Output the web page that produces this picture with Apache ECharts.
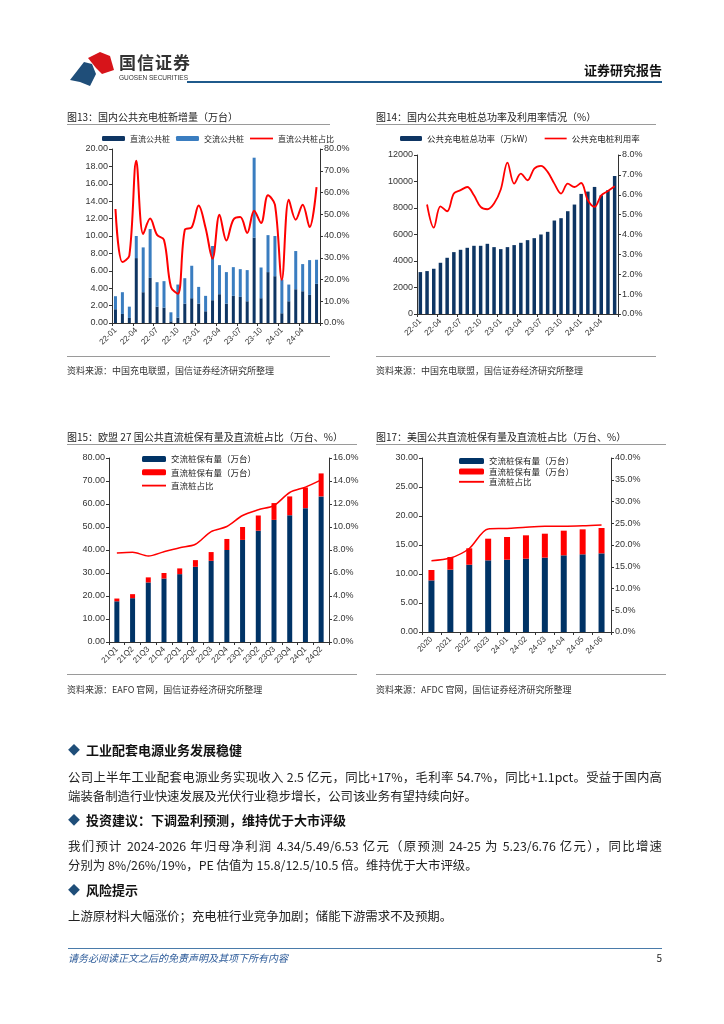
<!DOCTYPE html>
<html><head><meta charset="utf-8">
<script src="https://cdn.jsdelivr.net/npm/echarts@6/dist/echarts.min.js"></script>
<style>
body{margin:0;background:#fff;}
#page{position:relative;width:724px;height:1024px;overflow:hidden;font-family:"Noto Sans CJK SC","Noto Sans",sans-serif;color:#222;background:#fff;}
#chart{position:absolute;left:0;top:0;width:724px;height:1024px;}
.t{position:absolute;white-space:nowrap;pointer-events:none;}
.ct{font-size:10px;line-height:14px;color:#222;}
.src{font-size:9px;line-height:12px;color:#333;}
.hl{position:absolute;height:1px;background:#9a9a9a;}
.h{font-size:13px;font-weight:bold;line-height:18px;color:#111;}
.h span{color:#1F4E79;margin-right:6px;font-size:12px;}
.p{font-size:12.4px;line-height:18px;color:#222;width:594px;text-align:justify;}
.full{text-align-last:justify;}
</style></head>
<body><div id="page">
<div id="chart"></div>

<!-- header -->
<svg class="t" style="left:66px;top:48px" width="52" height="42" viewBox="0 0 52 42">
  <path d="M4 32 L18 14 L26 16 L30 26 L24 38 L14 34 Z" fill="#1F4E79"/>
  <path d="M22 10 L34 4 L44 8 L48 22 L36 26 L30 20 Z" fill="#D7141A"/>
</svg>
<div class="t" style="left:119px;top:52px;font-size:17px;line-height:20px;font-weight:bold;color:#333;letter-spacing:1px">国信证券</div>
<div class="t" style="left:119px;top:74px;font-size:6.5px;line-height:8px;color:#333;font-family:'Liberation Sans',sans-serif">GUOSEN SECURITIES</div>
<div class="t" style="left:187px;top:81px;width:475px;height:2px;background:#1F5A8C"></div>
<div class="t" style="left:583px;top:61px;width:79px;text-align:right;font-size:13px;line-height:18px;font-weight:bold;color:#111">证券研究报告</div>

<!-- chart titles -->
<div class="t ct" style="left:67px;top:110px">图13：国内公共充电桩新增量（万台）</div>
<div class="hl" style="left:67px;top:124px;width:263px"></div>
<div class="t ct" style="left:376px;top:110px">图14：国内公共充电桩总功率及利用率情况（%）</div>
<div class="hl" style="left:376px;top:124px;width:280px"></div>
<div class="hl" style="left:67px;top:356px;width:263px"></div>
<div class="hl" style="left:376px;top:356px;width:280px"></div>
<div class="t src" style="left:67px;top:365px">资料来源：中国充电联盟，国信证券经济研究所整理</div>
<div class="t src" style="left:376px;top:365px">资料来源：中国充电联盟，国信证券经济研究所整理</div>

<div class="t ct" style="left:67px;top:430px">图15：欧盟 27 国公共直流桩保有量及直流桩占比（万台、%）</div>
<div class="hl" style="left:67px;top:444px;width:290px"></div>
<div class="t ct" style="left:376px;top:430px">图17：美国公共直流桩保有量及直流桩占比（万台、%）</div>
<div class="hl" style="left:376px;top:444px;width:290px"></div>
<div class="hl" style="left:67px;top:674px;width:290px"></div>
<div class="hl" style="left:376px;top:674px;width:290px"></div>
<div class="t src" style="left:67px;top:684px">资料来源：EAFO 官网，国信证券经济研究所整理</div>
<div class="t src" style="left:376px;top:684px">资料来源：AFDC 官网，国信证券经济研究所整理</div>

<!-- body text -->
<div class="t h" style="left:68px;top:741px"><span>◆</span>工业配套电源业务发展稳健</div>
<div class="t p full" style="left:68px;top:768px">公司上半年工业配套电源业务实现收入 2.5 亿元，同比+17%，毛利率 54.7%，同比+1.1pct。受益于国内高</div>
<div class="t p" style="left:68px;top:787px">端装备制造行业快速发展及光伏行业稳步增长，公司该业务有望持续向好。</div>
<div class="t h" style="left:68px;top:811px"><span>◆</span>投资建议：下调盈利预测，维持优于大市评级</div>
<div class="t p full" style="left:68px;top:837px">我们预计 2024-2026 年归母净利润 4.34/5.49/6.53 亿元（原预测 24-25 为 5.23/6.76 亿元），同比增速</div>
<div class="t p" style="left:68px;top:856px">分别为 8%/26%/19%，PE 估值为 15.8/12.5/10.5 倍。维持优于大市评级。</div>
<div class="t h" style="left:68px;top:881px"><span>◆</span>风险提示</div>
<div class="t p" style="left:68px;top:907px">上游原材料大幅涨价；充电桩行业竞争加剧；储能下游需求不及预期。</div>

<!-- footer -->
<div class="t" style="left:68px;top:948px;width:594px;height:1px;background:#4A7BAA"></div>
<div class="t" style="left:68px;top:951px;font-size:10px;line-height:13px;color:#2E5C9A;font-style:italic">请务必阅读正文之后的免责声明及其项下所有内容</div>
<div class="t" style="left:640px;top:951px;width:22px;text-align:right;font-size:10px;line-height:13px;color:#222">5</div>
</div>

<script>
// ---------- data ----------
var months = ['22-01','22-02','22-03','22-04','22-05','22-06','22-07','22-08','22-09','22-10','22-11','22-12',
              '23-01','23-02','23-03','23-04','23-05','23-06','23-07','23-08','23-09','23-10','23-11','23-12',
              '24-01','24-02','24-03','24-04','24-05','24-06'];
// 图13 新增量（万台）
var c1_dc = [1.58,1.04,0.58,7.46,3.54,5.19,1.88,1.77,0.19,0.62,2.23,2.85,2.23,1.35,2.62,3.31,2.23,3.12,3.00,2.50,9.81,2.85,5.85,5.38,1.12,2.50,3.88,3.65,3.23,4.50];
var c1_ac = [1.50,2.50,1.30,2.54,5.15,5.61,2.81,3.04,1.04,3.80,2.92,3.73,1.92,1.77,6.23,3.34,3.62,3.30,3.19,3.58,9.19,3.53,4.25,4.62,3.88,1.92,4.39,3.12,4.00,2.77];
var c1_ratio = [52.4,28.0,31.0,74.6,40.9,48.0,40.5,38.2,16.6,13.5,42.8,44.0,54.0,43.7,29.6,49.8,37.9,47.5,48.7,41.4,51.6,46.0,58.7,54.4,19.9,56.7,47.5,54.4,44.1,62.5];
// 图14 总功率（万kW）与利用率（%）
var c2_power = [3163,3239,3414,3866,4243,4670,4846,4996,5147,5147,5297,5047,4896,5047,5200,5373,5574,5724,6000,6201,7055,7231,7758,8260,9064,9239,9590,8960,9340,10419];
var c2_util = [null,5.51,4.35,5.42,5.17,6.06,6.23,6.39,5.97,5.39,5.27,5.56,6.26,7.62,6.56,7.06,6.73,7.31,7.45,7.15,6.56,6.06,6.56,6.39,6.59,5.72,5.39,5.97,6.19,6.43];
// 图15 欧盟27国
var c3_cat = ['21Q1','21Q2','21Q3','21Q4','22Q1','22Q2','22Q3','22Q4','23Q1','23Q2','23Q3','23Q4','24Q1','24Q2'];
var c3_ac = [17.7,19.05,25.9,27.6,29.5,32.7,35.3,40.0,44.4,48.4,53.1,55.1,58.2,63.3];
var c3_dc = [1.2,1.75,2.2,2.4,2.5,2.9,3.8,4.8,5.6,6.6,7.3,8.2,9.0,10.0];
var c3_ratio = [7.74,7.80,7.48,7.85,8.20,8.50,9.60,10.04,11.0,11.5,11.87,13.0,13.47,14.1];
// 图17 美国
var c4_cat = ['2020','2021','2022','2023','24-01','24-02','24-03','24-04','24-05','24-06'];
var c4_ac = [8.9,10.75,11.6,12.36,12.47,12.64,12.82,13.22,13.39,13.56];
var c4_dc = [1.79,2.18,2.83,3.73,3.91,4.03,4.13,4.25,4.31,4.37];
var c4_ratio = [16.4,17.0,19.2,23.7,23.8,24.1,24.3,24.3,24.4,24.6];

// ---------- styles ----------
var NAVY = '#0E3563', BLUE = '#3A7DC0', RED = '#FF0000', NAVY2 = '#003366';
var FONT = 'Liberation Sans';
var LINE_ICON = 'path://M0,0 L40,0 L40,3 L0,3 Z';
function valAxis(gi, pos, min, max, step, fmt){
  return {type:'value', gridIndex:gi, position:pos, min:min, max:max, interval:step,
    splitLine:{show:false},
    axisLine:{show:true, lineStyle:{color:'#333', width:1}},
    axisTick:{show:true, length:3, lineStyle:{color:'#333'}},
    axisLabel:{fontSize:9, color:'#333', fontFamily:FONT, margin:4, formatter:fmt}};
}
function catAxis(gi, data, interval){
  return {type:'category', gridIndex:gi, data:data, boundaryGap:true,
    axisLine:{show:true, lineStyle:{color:'#333', width:1}},
    axisTick:{show:true, length:3, interval:interval, lineStyle:{color:'#333'}},
    axisLabel:{fontSize:8, color:'#333', fontFamily:FONT, rotate:45, interval:interval, margin:6}};
}
function lineItem(name){ return {name:name, icon:LINE_ICON, itemStyle:{color:RED}}; }
var f2 = function(v){return v.toFixed(2);};
var p1 = function(v){return v.toFixed(1)+'%';};

var option = {
  animation:false,
  backgroundColor:'transparent',
  textStyle:{fontFamily:'Noto Sans CJK SC'},
  grid:[
    {left:112, top:149, width:208, height:174},
    {left:417, top:155, width:201, height:159},
    {left:109, top:458, width:220, height:184},
    {left:422, top:458, width:189, height:174}
  ],
  xAxis:[
    catAxis(0, months, 2),
    catAxis(1, months, 2),
    catAxis(2, c3_cat, 0),
    catAxis(3, c4_cat, 0)
  ],
  yAxis:[
    valAxis(0,'left',0,20,2,f2),
    valAxis(0,'right',0,80,10,p1),
    valAxis(1,'left',0,12000,2000,function(v){return String(v);}),
    valAxis(1,'right',0,8,1,p1),
    valAxis(2,'left',0,80,10,f2),
    valAxis(2,'right',0,16,2,p1),
    valAxis(3,'left',0,30,5,f2),
    valAxis(3,'right',0,40,5,p1)
  ],
  legend:[
    {left:102, top:133, padding:0, itemWidth:23, itemHeight:5, itemGap:6,
     textStyle:{fontSize:8, color:'#222', lineHeight:11},
     data:['直流公共桩','交流公共桩',lineItem('直流公共桩占比')]},
    {left:400, top:133, padding:0, itemWidth:22, itemHeight:5, itemGap:12,
     textStyle:{fontSize:8.5, color:'#222', lineHeight:11},
     data:['公共充电桩总功率（万kW）',lineItem('公共充电桩利用率')]},
    {left:142, top:453.5, padding:0, orient:'vertical', itemWidth:24, itemHeight:6, itemGap:2.3,
     textStyle:{fontSize:8.5, color:'#222', lineHeight:11},
     data:['交流桩保有量（万台）','直流桩保有量（万台）',lineItem('直流桩占比')]},
    {left:459, top:456, padding:0, orient:'vertical', itemWidth:25, itemHeight:6, itemGap:0.4,
     textStyle:{fontSize:8.5, color:'#222', lineHeight:10},
     data:['交流桩保有量（万台） ','直流桩保有量（万台） ',lineItem('直流桩占比 ')]}
  ],
  series:[
    {name:'直流公共桩', type:'bar', stack:'c1', xAxisIndex:0, yAxisIndex:0, data:c1_dc, barWidth:3, itemStyle:{color:NAVY}},
    {name:'交流公共桩', type:'bar', stack:'c1', xAxisIndex:0, yAxisIndex:0, data:c1_ac, barWidth:3, itemStyle:{color:BLUE}},
    {name:'直流公共桩占比', type:'line', xAxisIndex:0, yAxisIndex:1, data:c1_ratio, smooth:0.35, symbol:'none',
     lineStyle:{color:RED, width:2}, itemStyle:{color:RED}},

    {name:'公共充电桩总功率（万kW）', type:'bar', xAxisIndex:1, yAxisIndex:2, data:c2_power, barWidth:3.5, itemStyle:{color:NAVY}},
    {name:'公共充电桩利用率', type:'line', xAxisIndex:1, yAxisIndex:3, data:c2_util, smooth:0.35, symbol:'none',
     lineStyle:{color:RED, width:1.8}, itemStyle:{color:RED}},

    {name:'交流桩保有量（万台）', type:'bar', stack:'c3', xAxisIndex:2, yAxisIndex:4, data:c3_ac, barWidth:5, itemStyle:{color:NAVY2}},
    {name:'直流桩保有量（万台）', type:'bar', stack:'c3', xAxisIndex:2, yAxisIndex:4, data:c3_dc, barWidth:5, itemStyle:{color:RED}},
    {name:'直流桩占比', type:'line', xAxisIndex:2, yAxisIndex:5, data:c3_ratio, smooth:0.3, symbol:'none',
     lineStyle:{color:RED, width:1.5}, itemStyle:{color:RED}},

    {name:'交流桩保有量（万台） ', type:'bar', stack:'c4', xAxisIndex:3, yAxisIndex:6, data:c4_ac, barWidth:6, itemStyle:{color:NAVY2}},
    {name:'直流桩保有量（万台） ', type:'bar', stack:'c4', xAxisIndex:3, yAxisIndex:6, data:c4_dc, barWidth:6, itemStyle:{color:RED}},
    {name:'直流桩占比 ', type:'line', xAxisIndex:3, yAxisIndex:7, data:c4_ratio, smooth:0.3, symbol:'none',
     lineStyle:{color:RED, width:1.5}, itemStyle:{color:RED}}
  ]
};
var chart = echarts.init(document.getElementById('chart'));
chart.setOption(option);
</script>
</body></html>
